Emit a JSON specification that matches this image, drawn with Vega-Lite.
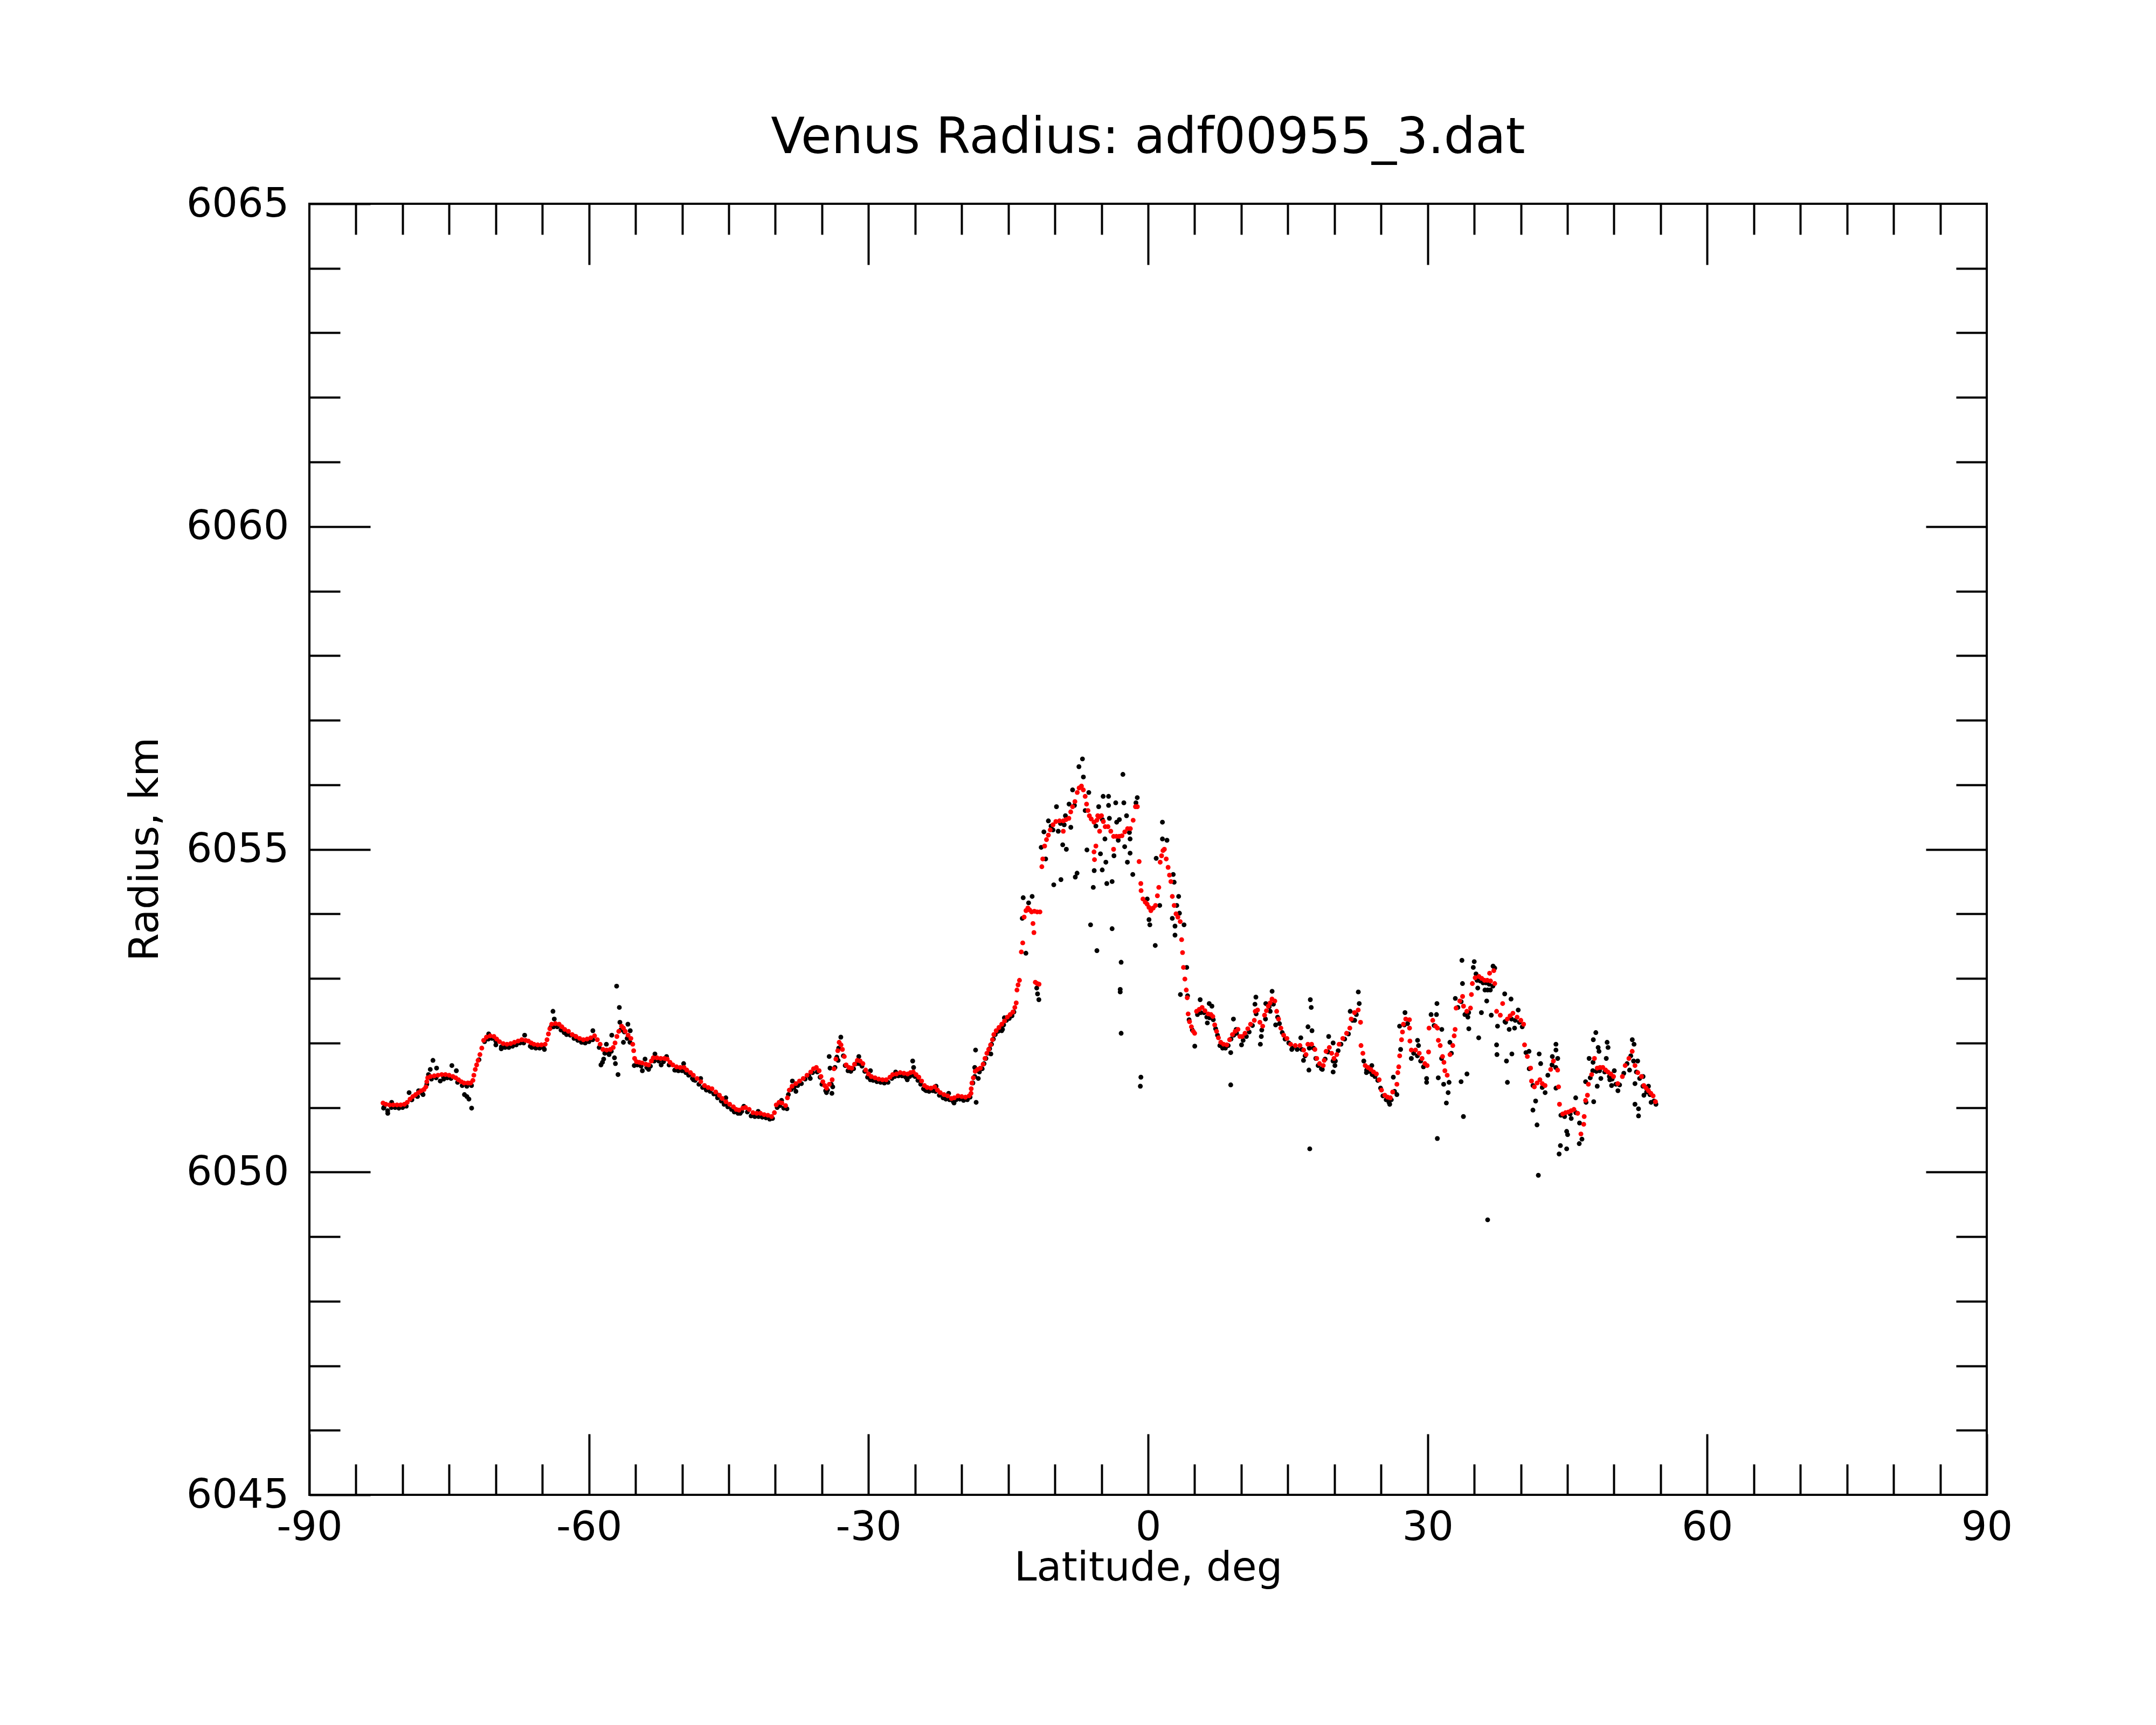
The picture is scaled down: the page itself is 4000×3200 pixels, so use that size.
{
  "$schema": "https://vega.github.io/schema/vega-lite/v6.json",
  "width": 3112,
  "height": 2395,
  "autosize": {"type": "none"},
  "padding": {"left": 574, "top": 378, "right": 314, "bottom": 427},
  "background": "white",
  "title": {
    "text": "Venus Radius: adf00955_3.dat",
    "font": "DejaVu Sans",
    "fontSize": 92,
    "fontWeight": "normal",
    "color": "black",
    "anchor": "middle",
    "frame": "group",
    "baseline": "alphabetic",
    "offset": -35
  },
  "datasets": {
    "raw": [
      {"lat": -82.0, "r": 6051.00}, {"lat": -81.6, "r": 6050.95}, {"lat": -81.2, "r": 6051.00}, {"lat": -80.8, "r": 6051.00},
      {"lat": -80.4, "r": 6050.99}, {"lat": -80.0, "r": 6051.00}, {"lat": -79.6, "r": 6051.02}, {"lat": -79.0, "r": 6051.12},
      {"lat": -78.4, "r": 6051.17}, {"lat": -77.9, "r": 6051.22}, {"lat": -77.4, "r": 6051.36}, {"lat": -76.9, "r": 6051.44},
      {"lat": -76.4, "r": 6051.46}, {"lat": -75.6, "r": 6051.47}, {"lat": -75.2, "r": 6051.46}, {"lat": -74.8, "r": 6051.45},
      {"lat": -74.1, "r": 6051.39}, {"lat": -73.6, "r": 6051.34}, {"lat": -73.1, "r": 6051.33}, {"lat": -72.6, "r": 6051.34},
      {"lat": -71.8, "r": 6051.74}, {"lat": -71.2, "r": 6052.02}, {"lat": -70.8, "r": 6052.06}, {"lat": -70.4, "r": 6052.07},
      {"lat": -70.0, "r": 6052.03}, {"lat": -69.4, "r": 6051.94}, {"lat": -69.0, "r": 6051.93}, {"lat": -68.6, "r": 6051.93},
      {"lat": -68.2, "r": 6051.95}, {"lat": -67.8, "r": 6051.97}, {"lat": -67.4, "r": 6052.00}, {"lat": -67.0, "r": 6052.00},
      {"lat": -66.3, "r": 6051.95}, {"lat": -65.7, "r": 6051.92}, {"lat": -65.3, "r": 6051.92}, {"lat": -64.9, "r": 6051.93},
      {"lat": -64.1, "r": 6052.24}, {"lat": -63.8, "r": 6052.25}, {"lat": -63.4, "r": 6052.25}, {"lat": -63.0, "r": 6052.20},
      {"lat": -62.4, "r": 6052.13}, {"lat": -62.0, "r": 6052.12}, {"lat": -61.6, "r": 6052.07}, {"lat": -61.2, "r": 6052.04},
      {"lat": -60.8, "r": 6052.01}, {"lat": -60.4, "r": 6052.00}, {"lat": -60.0, "r": 6052.02}, {"lat": -59.6, "r": 6052.05},
      {"lat": -58.9, "r": 6051.93}, {"lat": -58.3, "r": 6051.84}, {"lat": -57.9, "r": 6051.84}, {"lat": -57.6, "r": 6051.87},
      {"lat": -56.6, "r": 6052.20}, {"lat": -56.2, "r": 6052.17}, {"lat": -55.9, "r": 6052.07}, {"lat": -55.6, "r": 6052.01},
      {"lat": -81.59, "r": 6050.91}, {"lat": -82.04, "r": 6050.99}, {"lat": -81.17, "r": 6051.08}, {"lat": -79.3, "r": 6051.23},
      {"lat": -79.05, "r": 6051.12}, {"lat": -78.28, "r": 6051.26}, {"lat": -77.8, "r": 6051.20}, {"lat": -77.22, "r": 6051.51},
      {"lat": -77.03, "r": 6051.59}, {"lat": -76.74, "r": 6051.73}, {"lat": -76.35, "r": 6051.61}, {"lat": -75.96, "r": 6051.41},
      {"lat": -75.58, "r": 6051.44}, {"lat": -74.71, "r": 6051.65}, {"lat": -74.23, "r": 6051.57}, {"lat": -73.36, "r": 6051.20},
      {"lat": -73.1, "r": 6051.17}, {"lat": -72.88, "r": 6051.13}, {"lat": -72.59, "r": 6050.99}, {"lat": -70.76, "r": 6052.14},
      {"lat": -69.99, "r": 6051.97}, {"lat": -69.41, "r": 6051.91}, {"lat": -68.45, "r": 6051.96}, {"lat": -66.9, "r": 6052.12},
      {"lat": -66.13, "r": 6051.93}, {"lat": -64.78, "r": 6051.90}, {"lat": -63.86, "r": 6052.49}, {"lat": -63.72, "r": 6052.37},
      {"lat": -62.66, "r": 6052.16}, {"lat": -61.5, "r": 6052.10}, {"lat": -60.54, "r": 6052.01}, {"lat": -59.58, "r": 6052.19},
      {"lat": -58.71, "r": 6051.66}, {"lat": -58.55, "r": 6051.70}, {"lat": -58.42, "r": 6051.75}, {"lat": -58.13, "r": 6051.98},
      {"lat": -57.84, "r": 6051.82}, {"lat": -57.55, "r": 6052.12}, {"lat": -57.26, "r": 6051.77}, {"lat": -57.16, "r": 6051.68},
      {"lat": -57.03, "r": 6052.88}, {"lat": -56.74, "r": 6052.55}, {"lat": -56.88, "r": 6051.51}, {"lat": -56.68, "r": 6052.32},
      {"lat": -56.3, "r": 6052.01}, {"lat": -55.82, "r": 6052.29}, {"lat": -55.57, "r": 6052.19}, {"lat": -55.14, "r": 6051.65},
      {"lat": -54.8, "r": 6051.66}, {"lat": -54.4, "r": 6051.64}, {"lat": -53.8, "r": 6051.62}, {"lat": -53.4, "r": 6051.64},
      {"lat": -53.0, "r": 6051.72}, {"lat": -52.5, "r": 6051.72}, {"lat": -52.0, "r": 6051.71}, {"lat": -51.4, "r": 6051.66},
      {"lat": -50.8, "r": 6051.58}, {"lat": -50.4, "r": 6051.57}, {"lat": -50.0, "r": 6051.57}, {"lat": -49.6, "r": 6051.54},
      {"lat": -49.3, "r": 6051.50}, {"lat": -48.9, "r": 6051.45}, {"lat": -48.6, "r": 6051.42}, {"lat": -48.2, "r": 6051.36},
      {"lat": -47.8, "r": 6051.31}, {"lat": -47.4, "r": 6051.27}, {"lat": -47.0, "r": 6051.25}, {"lat": -46.6, "r": 6051.21},
      {"lat": -46.2, "r": 6051.15}, {"lat": -45.8, "r": 6051.10}, {"lat": -45.5, "r": 6051.05}, {"lat": -45.1, "r": 6051.01},
      {"lat": -44.7, "r": 6050.97}, {"lat": -44.4, "r": 6050.93}, {"lat": -44.0, "r": 6050.91}, {"lat": -43.6, "r": 6050.94},
      {"lat": -43.0, "r": 6050.93}, {"lat": -42.6, "r": 6050.87}, {"lat": -42.2, "r": 6050.86}, {"lat": -41.8, "r": 6050.86},
      {"lat": -41.4, "r": 6050.85}, {"lat": -41.0, "r": 6050.84}, {"lat": -40.6, "r": 6050.82}, {"lat": -39.8, "r": 6051.00},
      {"lat": -39.5, "r": 6051.03}, {"lat": -39.1, "r": 6050.99}, {"lat": -38.6, "r": 6051.20}, {"lat": -38.3, "r": 6051.28},
      {"lat": -38.0, "r": 6051.31}, {"lat": -37.6, "r": 6051.34}, {"lat": -37.2, "r": 6051.37}, {"lat": -36.8, "r": 6051.44},
      {"lat": -36.4, "r": 6051.49}, {"lat": -36.0, "r": 6051.54}, {"lat": -35.5, "r": 6051.55}, {"lat": -35.2, "r": 6051.47},
      {"lat": -35.0, "r": 6051.36}, {"lat": -34.6, "r": 6051.26}, {"lat": -34.4, "r": 6051.27}, {"lat": -34.0, "r": 6051.36},
      {"lat": -33.6, "r": 6051.62}, {"lat": -33.4, "r": 6051.78}, {"lat": -33.2, "r": 6051.92}, {"lat": -32.7, "r": 6051.80},
      {"lat": -32.5, "r": 6051.65}, {"lat": -32.2, "r": 6051.57}, {"lat": -31.9, "r": 6051.56}, {"lat": -31.6, "r": 6051.60},
      {"lat": -31.3, "r": 6051.68}, {"lat": -31.0, "r": 6051.68}, {"lat": -30.7, "r": 6051.64}, {"lat": -30.4, "r": 6051.56},
      {"lat": -30.1, "r": 6051.47}, {"lat": -29.8, "r": 6051.43}, {"lat": -29.5, "r": 6051.42}, {"lat": -29.1, "r": 6051.40},
      {"lat": -28.7, "r": 6051.39}, {"lat": -28.3, "r": 6051.38}, {"lat": -27.9, "r": 6051.39}, {"lat": -27.5, "r": 6051.45},
      {"lat": -27.2, "r": 6051.48}, {"lat": -26.8, "r": 6051.49}, {"lat": -26.4, "r": 6051.49}, {"lat": -26.0, "r": 6051.47},
      {"lat": -25.6, "r": 6051.48}, {"lat": -25.3, "r": 6051.50}, {"lat": -25.0, "r": 6051.48}, {"lat": -24.7, "r": 6051.42},
      {"lat": -24.4, "r": 6051.36}, {"lat": -24.1, "r": 6051.29}, {"lat": -23.8, "r": 6051.26}, {"lat": -23.5, "r": 6051.25},
      {"lat": -23.1, "r": 6051.26}, {"lat": -22.8, "r": 6051.25}, {"lat": -22.4, "r": 6051.19}, {"lat": -22.0, "r": 6051.15},
      {"lat": -21.7, "r": 6051.13}, {"lat": -21.3, "r": 6051.12}, {"lat": -20.9, "r": 6051.09}, {"lat": -20.6, "r": 6051.12},
      {"lat": -20.2, "r": 6051.13}, {"lat": -19.8, "r": 6051.11}, {"lat": -19.4, "r": 6051.12}, {"lat": -19.1, "r": 6051.16},
      {"lat": -18.8, "r": 6051.38}, {"lat": -18.6, "r": 6051.48}, {"lat": -18.1, "r": 6051.55}, {"lat": -17.8, "r": 6051.60},
      {"lat": -17.6, "r": 6051.68}, {"lat": -17.4, "r": 6051.76}, {"lat": -17.2, "r": 6051.84}, {"lat": -17.0, "r": 6051.91},
      {"lat": -16.8, "r": 6051.98}, {"lat": -16.6, "r": 6052.06}, {"lat": -16.4, "r": 6052.13}, {"lat": -16.1, "r": 6052.18},
      {"lat": -15.8, "r": 6052.24}, {"lat": -15.5, "r": 6052.28}, {"lat": -15.2, "r": 6052.35}, {"lat": -14.9, "r": 6052.38},
      {"lat": -14.6, "r": 6052.42}, {"lat": -14.4, "r": 6052.48},
      {"lat": -54.27, "r": 6051.57}, {"lat": -53.98, "r": 6051.75}, {"lat": -53.6, "r": 6051.59}, {"lat": -52.92, "r": 6051.83},
      {"lat": -52.25, "r": 6051.66}, {"lat": -51.67, "r": 6051.79}, {"lat": -50.71, "r": 6051.58}, {"lat": -49.84, "r": 6051.68},
      {"lat": -48.78, "r": 6051.43}, {"lat": -48.01, "r": 6051.45}, {"lat": -47.43, "r": 6051.29}, {"lat": -46.27, "r": 6051.20},
      {"lat": -45.31, "r": 6051.15}, {"lat": -45.12, "r": 6051.04}, {"lat": -43.77, "r": 6050.91}, {"lat": -43.38, "r": 6051.02},
      {"lat": -41.84, "r": 6050.94}, {"lat": -40.3, "r": 6050.83}, {"lat": -39.33, "r": 6051.11}, {"lat": -38.75, "r": 6050.98},
      {"lat": -38.17, "r": 6051.41}, {"lat": -37.79, "r": 6051.25}, {"lat": -36.25, "r": 6051.45}, {"lat": -34.51, "r": 6051.23},
      {"lat": -34.22, "r": 6051.79}, {"lat": -34.13, "r": 6051.61}, {"lat": -33.93, "r": 6051.22}, {"lat": -33.84, "r": 6051.32},
      {"lat": -32.97, "r": 6052.09}, {"lat": -33.26, "r": 6051.73}, {"lat": -32.01, "r": 6051.58}, {"lat": -31.04, "r": 6051.79},
      {"lat": -29.79, "r": 6051.57}, {"lat": -28.34, "r": 6051.39}, {"lat": -27.09, "r": 6051.55},
      {"lat": -25.26, "r": 6051.72}, {"lat": -25.16, "r": 6051.62}, {"lat": -25.84, "r": 6051.43}, {"lat": -23.91, "r": 6051.27},
      {"lat": -22.75, "r": 6051.33}, {"lat": -21.4, "r": 6051.22}, {"lat": -20.82, "r": 6051.07}, {"lat": -20.05, "r": 6051.14},
      {"lat": -18.51, "r": 6051.89}, {"lat": -18.45, "r": 6051.08}, {"lat": -18.6, "r": 6051.62}, {"lat": -18.22, "r": 6051.45},
      {"lat": -16.87, "r": 6051.83}, {"lat": -15.71, "r": 6052.19}, {"lat": -15.42, "r": 6052.39}, {"lat": -15.62, "r": 6052.21},
      {"lat": -11.95, "r": 6052.85}, {"lat": -11.86, "r": 6052.76}, {"lat": -11.72, "r": 6052.67},
      {"lat": -13.4, "r": 6054.25}, {"lat": -12.44, "r": 6054.27}, {"lat": -13.5, "r": 6053.93}, {"lat": -12.82, "r": 6054.17},
      {"lat": -13.11, "r": 6053.39}, {"lat": -11.47, "r": 6055.03}, {"lat": -10.99, "r": 6054.85}, {"lat": -11.18, "r": 6055.27},
      {"lat": -10.7, "r": 6055.44}, {"lat": -10.41, "r": 6055.36}, {"lat": -10.12, "r": 6054.45}, {"lat": -9.83, "r": 6055.66},
      {"lat": -9.64, "r": 6055.28}, {"lat": -9.35, "r": 6054.53}, {"lat": -9.16, "r": 6055.07}, {"lat": -8.77, "r": 6055.00},
      {"lat": -8.87, "r": 6055.52}, {"lat": -8.29, "r": 6055.34}, {"lat": -8.48, "r": 6055.70}, {"lat": -7.81, "r": 6054.57},
      {"lat": -7.62, "r": 6054.63}, {"lat": -8.1, "r": 6055.92}, {"lat": -7.42, "r": 6056.28}, {"lat": -7.04, "r": 6056.40},
      {"lat": -6.94, "r": 6056.12}, {"lat": -6.36, "r": 6055.88}, {"lat": -6.75, "r": 6055.60}, {"lat": -6.56, "r": 6054.99},
      {"lat": -6.17, "r": 6053.83}, {"lat": -5.88, "r": 6054.41}, {"lat": -5.78, "r": 6054.67}, {"lat": -5.49, "r": 6053.43},
      {"lat": -5.3, "r": 6055.66}, {"lat": -5.11, "r": 6054.93}, {"lat": -4.92, "r": 6054.68}, {"lat": -4.82, "r": 6055.82},
      {"lat": -4.63, "r": 6055.16}, {"lat": -4.53, "r": 6054.80}, {"lat": -4.43, "r": 6054.47}, {"lat": -4.24, "r": 6055.82},
      {"lat": -4.24, "r": 6055.68}, {"lat": -4.15, "r": 6055.48}, {"lat": -3.86, "r": 6054.50}, {"lat": -3.86, "r": 6053.77},
      {"lat": -3.66, "r": 6054.90}, {"lat": -3.47, "r": 6055.72}, {"lat": -3.37, "r": 6055.42}, {"lat": -3.08, "r": 6055.46},
      {"lat": -2.99, "r": 6052.83}, {"lat": -2.99, "r": 6052.79}, {"lat": -2.89, "r": 6053.25}, {"lat": -2.89, "r": 6052.15},
      {"lat": -2.7, "r": 6056.16}, {"lat": -2.6, "r": 6055.72}, {"lat": -2.51, "r": 6055.04}, {"lat": -2.31, "r": 6055.52},
      {"lat": -2.22, "r": 6054.80}, {"lat": -1.93, "r": 6054.94}, {"lat": -1.93, "r": 6055.16}, {"lat": -1.64, "r": 6054.61},
      {"lat": -1.16, "r": 6055.80}, {"lat": -1.3, "r": 6055.72}, {"lat": -0.77, "r": 6051.47}, {"lat": -0.83, "r": 6051.33},
      {"lat": -0.09, "r": 6054.23}, {"lat": 0.1, "r": 6053.91}, {"lat": 0.19, "r": 6053.83}, {"lat": 0.77, "r": 6053.51},
      {"lat": 0.87, "r": 6054.86}, {"lat": 1.25, "r": 6054.13}, {"lat": 1.54, "r": 6055.42}, {"lat": 1.54, "r": 6055.16},
      {"lat": 2.03, "r": 6055.14}, {"lat": 2.7, "r": 6054.61}, {"lat": 2.8, "r": 6054.49}, {"lat": 3.28, "r": 6054.27},
      {"lat": 3.08, "r": 6054.13}, {"lat": 2.6, "r": 6053.93}, {"lat": 2.89, "r": 6053.81}, {"lat": 2.89, "r": 6053.67},
      {"lat": 3.37, "r": 6054.01}, {"lat": 3.86, "r": 6053.83}, {"lat": 4.15, "r": 6053.17}, {"lat": 3.47, "r": 6052.75},
      {"lat": 4.24, "r": 6052.73}, {"lat": 5.01, "r": 6051.95}, {"lat": 5.59, "r": 6052.67}, {"lat": 6.36, "r": 6052.31},
      {"lat": 6.56, "r": 6052.61}, {"lat": 6.85, "r": 6052.57}, {"lat": 8.87, "r": 6051.85}, {"lat": 8.87, "r": 6051.35},
      {"lat": 9.16, "r": 6052.37}, {"lat": 9.45, "r": 6052.21}, {"lat": 10.03, "r": 6051.97},
      {"lat": -9.4, "r": 6055.40}, {"lat": -9.0, "r": 6055.38}, {"lat": -10.2, "r": 6055.30}, {"lat": -7.9, "r": 6055.68},
      {"lat": -5.6, "r": 6055.36}, {"lat": -4.9, "r": 6055.46}, {"lat": -3.2, "r": 6055.14}, {"lat": -2.0, "r": 6055.26},
      {"lat": 4.4, "r": 6052.36}, {"lat": 4.75, "r": 6052.20}, {"lat": 5.3, "r": 6052.44}, {"lat": 5.65, "r": 6052.47},
      {"lat": 6.0, "r": 6052.47}, {"lat": 6.3, "r": 6052.40}, {"lat": 6.6, "r": 6052.39}, {"lat": 7.0, "r": 6052.36},
      {"lat": 7.25, "r": 6052.22}, {"lat": 7.45, "r": 6052.12}, {"lat": 7.7, "r": 6051.96}, {"lat": 8.0, "r": 6051.92},
      {"lat": 8.3, "r": 6051.92}, {"lat": 8.6, "r": 6051.96}, {"lat": 8.9, "r": 6052.06}, {"lat": 9.2, "r": 6052.12},
      {"lat": 9.5, "r": 6052.15}, {"lat": 10.2, "r": 6052.04}, {"lat": 10.55, "r": 6052.10}, {"lat": 10.85, "r": 6052.17},
      {"lat": 11.2, "r": 6052.27}, {"lat": 11.6, "r": 6052.45}, {"lat": 12.2, "r": 6052.20}, {"lat": 12.6, "r": 6052.37},
      {"lat": 13.0, "r": 6052.56}, {"lat": 13.45, "r": 6052.60}, {"lat": 13.9, "r": 6052.40}, {"lat": 14.1, "r": 6052.30},
      {"lat": 14.4, "r": 6052.16}, {"lat": 14.7, "r": 6052.06}, {"lat": 15.1, "r": 6052.00}, {"lat": 15.5, "r": 6051.92},
      {"lat": 16.0, "r": 6051.90}, {"lat": 16.5, "r": 6051.90}, {"lat": 16.85, "r": 6051.80}, {"lat": 17.3, "r": 6051.92},
      {"lat": 17.75, "r": 6051.92}, {"lat": 18.0, "r": 6051.76}, {"lat": 18.25, "r": 6051.65}, {"lat": 18.6, "r": 6051.60},
      {"lat": 19.0, "r": 6051.75}, {"lat": 19.3, "r": 6051.86}, {"lat": 19.85, "r": 6051.72}, {"lat": 20.1, "r": 6051.72},
      {"lat": 20.4, "r": 6051.88}, {"lat": 20.7, "r": 6051.98}, {"lat": 21.1, "r": 6052.06}, {"lat": 21.5, "r": 6052.14},
      {"lat": 21.95, "r": 6052.35}, {"lat": 22.35, "r": 6052.44}, {"lat": 23.15, "r": 6051.72}, {"lat": 23.45, "r": 6051.58},
      {"lat": 23.75, "r": 6051.56}, {"lat": 24.05, "r": 6051.51}, {"lat": 24.35, "r": 6051.48}, {"lat": 24.65, "r": 6051.42},
      {"lat": 24.95, "r": 6051.30}, {"lat": 25.2, "r": 6051.18}, {"lat": 25.55, "r": 6051.12}, {"lat": 25.85, "r": 6051.08},
      {"lat": 26.1, "r": 6051.12}, {"lat": 26.45, "r": 6051.25}, {"lat": 27.1, "r": 6051.90}, {"lat": 27.5, "r": 6052.28},
      {"lat": 27.85, "r": 6052.30}, {"lat": 28.5, "r": 6051.84}, {"lat": 28.9, "r": 6051.80}, {"lat": 29.25, "r": 6051.72},
      {"lat": 29.55, "r": 6051.63}, {"lat": 30.7, "r": 6052.27}, {"lat": 31.5, "r": 6051.76}, {"lat": 32.55, "r": 6051.84},
      {"lat": 33.25, "r": 6052.55}, {"lat": 33.6, "r": 6052.64}, {"lat": 34.0, "r": 6052.44}, {"lat": 34.4, "r": 6052.47},
      {"lat": 35.3, "r": 6052.97}, {"lat": 35.65, "r": 6052.96}, {"lat": 35.95, "r": 6052.93}, {"lat": 36.25, "r": 6052.93},
      {"lat": 36.6, "r": 6052.91}, {"lat": 37.0, "r": 6052.88}, {"lat": 38.3, "r": 6052.33}, {"lat": 39.0, "r": 6052.37},
      {"lat": 39.4, "r": 6052.35}, {"lat": 39.85, "r": 6052.32}, {"lat": 40.15, "r": 6052.25}, {"lat": 40.55, "r": 6051.85},
      {"lat": 40.9, "r": 6051.60}, {"lat": 41.3, "r": 6051.34}, {"lat": 42.3, "r": 6051.31}, {"lat": 42.9, "r": 6051.50},
      {"lat": 43.35, "r": 6051.66}, {"lat": 43.75, "r": 6051.62}, {"lat": 44.3, "r": 6050.88}, {"lat": 44.7, "r": 6050.86},
      {"lat": 45.3, "r": 6050.90}, {"lat": 45.9, "r": 6050.92}, {"lat": 46.3, "r": 6050.76}, {"lat": 47.0, "r": 6051.08},
      {"lat": 47.45, "r": 6051.46}, {"lat": 47.75, "r": 6051.70}, {"lat": 48.1, "r": 6051.56}, {"lat": 48.45, "r": 6051.57},
      {"lat": 49.0, "r": 6051.55}, {"lat": 49.5, "r": 6051.48}, {"lat": 49.8, "r": 6051.44}, {"lat": 50.2, "r": 6051.36},
      {"lat": 50.6, "r": 6051.35}, {"lat": 51.05, "r": 6051.53}, {"lat": 51.4, "r": 6051.68}, {"lat": 51.8, "r": 6051.80},
      {"lat": 52.1, "r": 6051.72}, {"lat": 52.4, "r": 6051.55}, {"lat": 52.75, "r": 6051.45}, {"lat": 53.1, "r": 6051.33},
      {"lat": 53.5, "r": 6051.24}, {"lat": 53.85, "r": 6051.20}, {"lat": 54.3, "r": 6051.10}, {"lat": 54.5, "r": 6051.05},
      {"lat": 11.57, "r": 6052.71}, {"lat": 11.47, "r": 6052.60}, {"lat": 12.15, "r": 6052.10}, {"lat": 12.05, "r": 6051.98},
      {"lat": 12.63, "r": 6052.61}, {"lat": 13.31, "r": 6052.80}, {"lat": 13.11, "r": 6052.49}, {"lat": 13.69, "r": 6052.28},
      {"lat": 15.42, "r": 6051.90}, {"lat": 16.39, "r": 6052.08}, {"lat": 16.68, "r": 6051.73}, {"lat": 17.26, "r": 6051.58},
      {"lat": 17.41, "r": 6052.67}, {"lat": 17.51, "r": 6052.55}, {"lat": 17.16, "r": 6052.25}, {"lat": 17.59, "r": 6052.19},
      {"lat": 17.35, "r": 6050.36}, {"lat": 18.7, "r": 6051.59}, {"lat": 19.38, "r": 6052.10}, {"lat": 19.86, "r": 6052.00},
      {"lat": 19.86, "r": 6051.55}, {"lat": 20.05, "r": 6051.65}, {"lat": 21.69, "r": 6052.49}, {"lat": 22.17, "r": 6052.35},
      {"lat": 22.56, "r": 6052.79}, {"lat": 22.66, "r": 6052.61}, {"lat": 23.43, "r": 6051.54}, {"lat": 24.01, "r": 6051.65},
      {"lat": 25.93, "r": 6051.05}, {"lat": 26.32, "r": 6051.47}, {"lat": 26.7, "r": 6051.20}, {"lat": 26.99, "r": 6052.26},
      {"lat": 27.57, "r": 6052.47}, {"lat": 28.25, "r": 6051.76}, {"lat": 28.92, "r": 6052.04}, {"lat": 29.02, "r": 6051.96},
      {"lat": 29.89, "r": 6051.45}, {"lat": 29.89, "r": 6051.39}, {"lat": 30.37, "r": 6052.44}, {"lat": 30.95, "r": 6052.44},
      {"lat": 31.0, "r": 6052.61}, {"lat": 31.04, "r": 6050.52}, {"lat": 31.14, "r": 6051.46}, {"lat": 31.52, "r": 6052.21},
      {"lat": 31.72, "r": 6051.36}, {"lat": 32.2, "r": 6051.23}, {"lat": 32.01, "r": 6051.07}, {"lat": 32.3, "r": 6051.39},
      {"lat": 32.39, "r": 6052.01}, {"lat": 32.97, "r": 6052.69}, {"lat": 33.59, "r": 6051.40}, {"lat": 33.68, "r": 6053.28},
      {"lat": 33.74, "r": 6052.92}, {"lat": 33.84, "r": 6050.86}, {"lat": 34.22, "r": 6051.52}, {"lat": 34.32, "r": 6052.40},
      {"lat": 34.42, "r": 6052.22}, {"lat": 35.0, "r": 6053.26}, {"lat": 34.9, "r": 6053.17}, {"lat": 35.19, "r": 6053.07},
      {"lat": 35.38, "r": 6052.85}, {"lat": 35.48, "r": 6052.08}, {"lat": 35.77, "r": 6052.47}, {"lat": 36.15, "r": 6052.82},
      {"lat": 36.34, "r": 6052.65}, {"lat": 36.73, "r": 6052.82}, {"lat": 36.83, "r": 6052.43}, {"lat": 37.02, "r": 6053.19},
      {"lat": 37.2, "r": 6053.16}, {"lat": 37.4, "r": 6051.97}, {"lat": 37.44, "r": 6051.82}, {"lat": 37.5, "r": 6052.26},
      {"lat": 38.27, "r": 6052.76}, {"lat": 38.46, "r": 6051.72}, {"lat": 38.56, "r": 6051.39}, {"lat": 38.37, "r": 6052.32},
      {"lat": 36.44, "r": 6049.26}, {"lat": 36.44, "r": 6052.82}, {"lat": 38.95, "r": 6052.68}, {"lat": 38.75, "r": 6052.21},
      {"lat": 39.04, "r": 6051.83}, {"lat": 39.33, "r": 6052.23}, {"lat": 39.72, "r": 6052.51}, {"lat": 40.88, "r": 6051.87},
      {"lat": 41.97, "r": 6051.83}, {"lat": 42.13, "r": 6051.68}, {"lat": 41.59, "r": 6051.10}, {"lat": 41.3, "r": 6050.96},
      {"lat": 41.74, "r": 6050.73}, {"lat": 41.88, "r": 6049.95}, {"lat": 42.61, "r": 6051.23}, {"lat": 43.38, "r": 6051.79},
      {"lat": 43.77, "r": 6051.98}, {"lat": 43.77, "r": 6051.89}, {"lat": 43.96, "r": 6051.76}, {"lat": 43.77, "r": 6051.30},
      {"lat": 44.25, "r": 6050.41}, {"lat": 44.11, "r": 6050.28}, {"lat": 44.92, "r": 6050.36}, {"lat": 44.92, "r": 6050.63},
      {"lat": 45.02, "r": 6050.58}, {"lat": 45.41, "r": 6050.83}, {"lat": 45.89, "r": 6051.15}, {"lat": 46.27, "r": 6050.44},
      {"lat": 46.56, "r": 6050.51}, {"lat": 46.95, "r": 6051.40}, {"lat": 47.33, "r": 6051.76}, {"lat": 47.72, "r": 6051.57},
      {"lat": 47.82, "r": 6051.09}, {"lat": 48.05, "r": 6052.16}, {"lat": 47.78, "r": 6052.05}, {"lat": 48.3, "r": 6051.93},
      {"lat": 48.39, "r": 6051.87}, {"lat": 48.2, "r": 6051.33}, {"lat": 48.59, "r": 6051.45}, {"lat": 49.17, "r": 6051.76},
      {"lat": 49.26, "r": 6052.01}, {"lat": 49.36, "r": 6051.93}, {"lat": 49.55, "r": 6051.43}, {"lat": 49.74, "r": 6051.34},
      {"lat": 50.03, "r": 6051.57}, {"lat": 50.42, "r": 6051.26}, {"lat": 51.67, "r": 6051.58}, {"lat": 51.96, "r": 6052.05},
      {"lat": 52.15, "r": 6051.98}, {"lat": 52.54, "r": 6051.72}, {"lat": 52.25, "r": 6051.37}, {"lat": 53.12, "r": 6051.48},
      {"lat": 53.7, "r": 6051.33}, {"lat": 53.21, "r": 6051.19}, {"lat": 52.25, "r": 6051.05}, {"lat": 52.63, "r": 6050.98},
      {"lat": 52.63, "r": 6050.87}, {"lat": 53.98, "r": 6051.08}
    ],
    "fit": [
      {"lat": -82.1, "r": 6051.07}, {"lat": -81.8, "r": 6051.05}, {"lat": -81.4, "r": 6051.04}, {"lat": -81.0, "r": 6051.04},
      {"lat": -80.6, "r": 6051.04}, {"lat": -80.2, "r": 6051.04}, {"lat": -79.8, "r": 6051.05}, {"lat": -79.5, "r": 6051.08},
      {"lat": -79.2, "r": 6051.13}, {"lat": -78.9, "r": 6051.17}, {"lat": -78.6, "r": 6051.20}, {"lat": -78.3, "r": 6051.23},
      {"lat": -78.0, "r": 6051.26}, {"lat": -77.7, "r": 6051.28}, {"lat": -77.5, "r": 6051.32}, {"lat": -77.4, "r": 6051.40},
      {"lat": -77.3, "r": 6051.46}, {"lat": -77.0, "r": 6051.48}, {"lat": -76.6, "r": 6051.49}, {"lat": -76.2, "r": 6051.50},
      {"lat": -75.8, "r": 6051.51}, {"lat": -75.4, "r": 6051.51}, {"lat": -75.0, "r": 6051.50}, {"lat": -74.6, "r": 6051.48},
      {"lat": -74.3, "r": 6051.46}, {"lat": -74.0, "r": 6051.43}, {"lat": -73.7, "r": 6051.40}, {"lat": -73.4, "r": 6051.38},
      {"lat": -73.0, "r": 6051.38}, {"lat": -72.7, "r": 6051.38}, {"lat": -72.45, "r": 6051.42}, {"lat": -72.35, "r": 6051.50},
      {"lat": -72.2, "r": 6051.59}, {"lat": -72.05, "r": 6051.66}, {"lat": -71.9, "r": 6051.73}, {"lat": -71.7, "r": 6051.82},
      {"lat": -71.5, "r": 6051.92}, {"lat": -71.3, "r": 6052.04}, {"lat": -71.0, "r": 6052.09}, {"lat": -70.6, "r": 6052.11},
      {"lat": -70.2, "r": 6052.10}, {"lat": -69.9, "r": 6052.06}, {"lat": -69.6, "r": 6052.02}, {"lat": -69.2, "r": 6051.99},
      {"lat": -68.8, "r": 6051.98}, {"lat": -68.4, "r": 6051.99}, {"lat": -68.0, "r": 6052.01}, {"lat": -67.6, "r": 6052.03},
      {"lat": -67.2, "r": 6052.05}, {"lat": -66.8, "r": 6052.04}, {"lat": -66.5, "r": 6052.03}, {"lat": -66.2, "r": 6052.00},
      {"lat": -65.9, "r": 6051.98}, {"lat": -65.5, "r": 6051.97}, {"lat": -65.1, "r": 6051.97}, {"lat": -64.7, "r": 6051.98},
      {"lat": -64.5, "r": 6052.05}, {"lat": -64.35, "r": 6052.14}, {"lat": -64.2, "r": 6052.22}, {"lat": -64.0, "r": 6052.29},
      {"lat": -63.6, "r": 6052.30}, {"lat": -63.2, "r": 6052.29}, {"lat": -62.9, "r": 6052.25}, {"lat": -62.6, "r": 6052.21},
      {"lat": -62.2, "r": 6052.18}, {"lat": -61.8, "r": 6052.13}, {"lat": -61.4, "r": 6052.10}, {"lat": -61.0, "r": 6052.07},
      {"lat": -60.6, "r": 6052.05}, {"lat": -60.2, "r": 6052.06}, {"lat": -59.8, "r": 6052.08}, {"lat": -59.4, "r": 6052.11},
      {"lat": -59.1, "r": 6052.05}, {"lat": -58.8, "r": 6051.98}, {"lat": -58.5, "r": 6051.90}, {"lat": -58.1, "r": 6051.89},
      {"lat": -57.7, "r": 6051.90}, {"lat": -57.4, "r": 6051.93}, {"lat": -57.2, "r": 6052.00}, {"lat": -57.0, "r": 6052.10},
      {"lat": -56.8, "r": 6052.18}, {"lat": -56.5, "r": 6052.26}, {"lat": -56.3, "r": 6052.23}, {"lat": -56.1, "r": 6052.18},
      {"lat": -55.8, "r": 6052.12}, {"lat": -55.5, "r": 6052.07}, {"lat": -55.3, "r": 6051.98}, {"lat": -55.2, "r": 6051.88},
      {"lat": -55.1, "r": 6051.76}, {"lat": -54.9, "r": 6051.71}, {"lat": -54.6, "r": 6051.70}, {"lat": -54.3, "r": 6051.69},
      {"lat": -53.9, "r": 6051.67}, {"lat": -53.6, "r": 6051.66}, {"lat": -53.3, "r": 6051.72}, {"lat": -53.1, "r": 6051.77},
      {"lat": -52.7, "r": 6051.77}, {"lat": -52.3, "r": 6051.76}, {"lat": -51.9, "r": 6051.76}, {"lat": -51.6, "r": 6051.75},
      {"lat": -51.3, "r": 6051.70}, {"lat": -51.0, "r": 6051.66}, {"lat": -50.6, "r": 6051.63}, {"lat": -50.2, "r": 6051.62},
      {"lat": -49.8, "r": 6051.62}, {"lat": -49.5, "r": 6051.58}, {"lat": -49.1, "r": 6051.54}, {"lat": -48.8, "r": 6051.50},
      {"lat": -48.4, "r": 6051.45}, {"lat": -48.0, "r": 6051.40}, {"lat": -47.6, "r": 6051.34}, {"lat": -47.2, "r": 6051.31},
      {"lat": -46.8, "r": 6051.29}, {"lat": -46.4, "r": 6051.24}, {"lat": -46.0, "r": 6051.19}, {"lat": -45.7, "r": 6051.14},
      {"lat": -45.3, "r": 6051.09}, {"lat": -44.9, "r": 6051.05}, {"lat": -44.5, "r": 6051.01}, {"lat": -44.2, "r": 6050.97},
      {"lat": -43.9, "r": 6050.96}, {"lat": -43.5, "r": 6050.99}, {"lat": -43.2, "r": 6051.00}, {"lat": -42.8, "r": 6050.97},
      {"lat": -42.4, "r": 6050.92}, {"lat": -42.0, "r": 6050.91}, {"lat": -41.6, "r": 6050.91}, {"lat": -41.2, "r": 6050.89},
      {"lat": -40.8, "r": 6050.88}, {"lat": -40.4, "r": 6050.86}, {"lat": -40.1, "r": 6050.92}, {"lat": -39.9, "r": 6051.04},
      {"lat": -39.6, "r": 6051.08}, {"lat": -39.3, "r": 6051.07}, {"lat": -38.9, "r": 6051.03}, {"lat": -38.7, "r": 6051.15},
      {"lat": -38.5, "r": 6051.27}, {"lat": -38.2, "r": 6051.33}, {"lat": -37.8, "r": 6051.37}, {"lat": -37.4, "r": 6051.41},
      {"lat": -37.0, "r": 6051.45}, {"lat": -36.6, "r": 6051.50}, {"lat": -36.2, "r": 6051.55}, {"lat": -35.9, "r": 6051.60},
      {"lat": -35.6, "r": 6051.62}, {"lat": -35.3, "r": 6051.57}, {"lat": -35.1, "r": 6051.48}, {"lat": -34.9, "r": 6051.40},
      {"lat": -34.7, "r": 6051.34}, {"lat": -34.5, "r": 6051.30}, {"lat": -34.2, "r": 6051.36}, {"lat": -33.9, "r": 6051.43},
      {"lat": -33.7, "r": 6051.60}, {"lat": -33.5, "r": 6051.75}, {"lat": -33.3, "r": 6051.88}, {"lat": -33.15, "r": 6052.01},
      {"lat": -32.95, "r": 6051.97}, {"lat": -32.8, "r": 6051.90}, {"lat": -32.6, "r": 6051.79}, {"lat": -32.4, "r": 6051.66},
      {"lat": -32.1, "r": 6051.62}, {"lat": -31.8, "r": 6051.61}, {"lat": -31.5, "r": 6051.67}, {"lat": -31.2, "r": 6051.73},
      {"lat": -30.9, "r": 6051.72}, {"lat": -30.6, "r": 6051.68}, {"lat": -30.3, "r": 6051.58}, {"lat": -30.0, "r": 6051.52},
      {"lat": -29.7, "r": 6051.48}, {"lat": -29.3, "r": 6051.46}, {"lat": -28.9, "r": 6051.44}, {"lat": -28.5, "r": 6051.43},
      {"lat": -28.1, "r": 6051.43}, {"lat": -27.7, "r": 6051.47}, {"lat": -27.4, "r": 6051.51}, {"lat": -27.0, "r": 6051.52},
      {"lat": -26.6, "r": 6051.54}, {"lat": -26.2, "r": 6051.53}, {"lat": -25.8, "r": 6051.52}, {"lat": -25.5, "r": 6051.54},
      {"lat": -25.2, "r": 6051.55}, {"lat": -24.9, "r": 6051.51}, {"lat": -24.6, "r": 6051.47}, {"lat": -24.3, "r": 6051.41},
      {"lat": -24.0, "r": 6051.34}, {"lat": -23.7, "r": 6051.31}, {"lat": -23.3, "r": 6051.30}, {"lat": -22.9, "r": 6051.32},
      {"lat": -22.6, "r": 6051.27}, {"lat": -22.3, "r": 6051.23}, {"lat": -21.9, "r": 6051.20}, {"lat": -21.5, "r": 6051.18},
      {"lat": -21.1, "r": 6051.14}, {"lat": -20.8, "r": 6051.15}, {"lat": -20.4, "r": 6051.18}, {"lat": -20.0, "r": 6051.17},
      {"lat": -19.6, "r": 6051.16}, {"lat": -19.2, "r": 6051.18}, {"lat": -19.0, "r": 6051.22}, {"lat": -18.98, "r": 6051.29},
      {"lat": -18.9, "r": 6051.38}, {"lat": -18.75, "r": 6051.46}, {"lat": -18.55, "r": 6051.56}, {"lat": -18.3, "r": 6051.59},
      {"lat": -18.0, "r": 6051.61}, {"lat": -17.7, "r": 6051.67}, {"lat": -17.5, "r": 6051.76}, {"lat": -17.3, "r": 6051.84},
      {"lat": -17.1, "r": 6051.90}, {"lat": -16.9, "r": 6051.97}, {"lat": -16.7, "r": 6052.05}, {"lat": -16.55, "r": 6052.13},
      {"lat": -16.3, "r": 6052.19}, {"lat": -16.0, "r": 6052.24}, {"lat": -15.7, "r": 6052.29}, {"lat": -15.4, "r": 6052.34},
      {"lat": -15.1, "r": 6052.40}, {"lat": -14.8, "r": 6052.44}, {"lat": -14.5, "r": 6052.48}, {"lat": -14.3, "r": 6052.55},
      {"lat": -14.15, "r": 6052.62}, {"lat": -14.07, "r": 6052.82}, {"lat": -13.95, "r": 6052.90}, {"lat": -13.8, "r": 6052.97},
      {"lat": -13.6, "r": 6053.41}, {"lat": -13.45, "r": 6053.55}, {"lat": -13.3, "r": 6053.95}, {"lat": -13.1, "r": 6054.05},
      {"lat": -12.9, "r": 6054.09}, {"lat": -12.7, "r": 6054.06}, {"lat": -12.5, "r": 6054.03}, {"lat": -12.2, "r": 6054.04},
      {"lat": -11.9, "r": 6054.03}, {"lat": -11.6, "r": 6054.03}, {"lat": -12.35, "r": 6053.85}, {"lat": -12.25, "r": 6053.71},
      {"lat": -12.1, "r": 6052.94}, {"lat": -11.9, "r": 6052.92}, {"lat": -11.7, "r": 6052.91}, {"lat": -11.4, "r": 6054.73},
      {"lat": -11.3, "r": 6054.85}, {"lat": -11.1, "r": 6055.05}, {"lat": -10.9, "r": 6055.15}, {"lat": -10.7, "r": 6055.22},
      {"lat": -10.5, "r": 6055.30}, {"lat": -10.2, "r": 6055.38}, {"lat": -9.9, "r": 6055.43}, {"lat": -9.5, "r": 6055.44},
      {"lat": -9.1, "r": 6055.44}, {"lat": -8.8, "r": 6055.46}, {"lat": -8.5, "r": 6055.48}, {"lat": -8.3, "r": 6055.58},
      {"lat": -8.1, "r": 6055.66}, {"lat": -7.85, "r": 6055.74}, {"lat": -7.6, "r": 6055.88}, {"lat": -7.4, "r": 6055.95},
      {"lat": -7.15, "r": 6055.98}, {"lat": -6.95, "r": 6055.92}, {"lat": -6.75, "r": 6055.82}, {"lat": -6.6, "r": 6055.70},
      {"lat": -6.45, "r": 6055.60}, {"lat": -6.3, "r": 6055.52}, {"lat": -6.1, "r": 6055.47}, {"lat": -5.8, "r": 6055.42},
      {"lat": -5.5, "r": 6055.45}, {"lat": -5.2, "r": 6055.50}, {"lat": -5.0, "r": 6055.52}, {"lat": -4.8, "r": 6055.43},
      {"lat": -4.6, "r": 6055.35}, {"lat": -4.3, "r": 6055.35}, {"lat": -4.0, "r": 6055.28}, {"lat": -3.7, "r": 6055.20},
      {"lat": -3.4, "r": 6055.20}, {"lat": -3.1, "r": 6055.20}, {"lat": -2.8, "r": 6055.21}, {"lat": -2.5, "r": 6055.27},
      {"lat": -2.2, "r": 6055.32}, {"lat": -1.9, "r": 6055.32}, {"lat": -1.6, "r": 6055.45}, {"lat": -1.35, "r": 6055.66},
      {"lat": -1.15, "r": 6055.66}, {"lat": -9.1, "r": 6055.28}, {"lat": -5.8, "r": 6054.96}, {"lat": -5.6, "r": 6055.05},
      {"lat": -5.75, "r": 6054.84}, {"lat": -5.2, "r": 6055.28}, {"lat": -5.4, "r": 6055.52}, {"lat": -3.7, "r": 6055.00},
      {"lat": -0.96, "r": 6054.81}, {"lat": -0.78, "r": 6054.47}, {"lat": -0.75, "r": 6054.36}, {"lat": -0.55, "r": 6054.23},
      {"lat": -0.3, "r": 6054.18}, {"lat": -0.1, "r": 6054.15}, {"lat": 0.1, "r": 6054.10}, {"lat": 0.3, "r": 6054.05},
      {"lat": 0.55, "r": 6054.09}, {"lat": 0.8, "r": 6054.13}, {"lat": 1.0, "r": 6054.28}, {"lat": 1.15, "r": 6054.41},
      {"lat": 1.3, "r": 6054.80}, {"lat": 1.45, "r": 6054.90}, {"lat": 1.6, "r": 6054.98}, {"lat": 1.75, "r": 6055.00},
      {"lat": 1.95, "r": 6054.85}, {"lat": 2.15, "r": 6054.72}, {"lat": 2.3, "r": 6054.60}, {"lat": 2.45, "r": 6054.50},
      {"lat": 2.6, "r": 6054.27}, {"lat": 2.8, "r": 6054.13}, {"lat": 3.0, "r": 6054.00}, {"lat": 3.2, "r": 6053.95},
      {"lat": 3.45, "r": 6053.88}, {"lat": 3.6, "r": 6053.60}, {"lat": 3.7, "r": 6053.40}, {"lat": 3.8, "r": 6053.17},
      {"lat": 3.95, "r": 6052.99}, {"lat": 4.1, "r": 6052.82}, {"lat": 4.2, "r": 6052.70}, {"lat": 4.3, "r": 6052.45},
      {"lat": 4.45, "r": 6052.33}, {"lat": 4.65, "r": 6052.25}, {"lat": 4.85, "r": 6052.18}, {"lat": 5.0, "r": 6052.15},
      {"lat": 5.2, "r": 6052.49}, {"lat": 5.5, "r": 6052.52}, {"lat": 5.8, "r": 6052.55}, {"lat": 6.1, "r": 6052.50},
      {"lat": 6.45, "r": 6052.45}, {"lat": 6.75, "r": 6052.44}, {"lat": 6.95, "r": 6052.41}, {"lat": 7.15, "r": 6052.28},
      {"lat": 7.35, "r": 6052.18}, {"lat": 7.55, "r": 6052.08}, {"lat": 7.8, "r": 6052.01}, {"lat": 8.1, "r": 6051.98},
      {"lat": 8.45, "r": 6051.97}, {"lat": 8.75, "r": 6052.05}, {"lat": 9.05, "r": 6052.13}, {"lat": 9.35, "r": 6052.18},
      {"lat": 9.65, "r": 6052.21}, {"lat": 9.85, "r": 6052.10}, {"lat": 10.1, "r": 6052.10}, {"lat": 10.4, "r": 6052.15},
      {"lat": 10.7, "r": 6052.22}, {"lat": 11.0, "r": 6052.29}, {"lat": 11.4, "r": 6052.35}, {"lat": 11.5, "r": 6052.49},
      {"lat": 11.75, "r": 6052.51}, {"lat": 12.0, "r": 6052.32}, {"lat": 12.3, "r": 6052.26}, {"lat": 12.5, "r": 6052.43},
      {"lat": 12.7, "r": 6052.50}, {"lat": 12.9, "r": 6052.57}, {"lat": 13.1, "r": 6052.62}, {"lat": 13.3, "r": 6052.68},
      {"lat": 13.6, "r": 6052.65}, {"lat": 13.8, "r": 6052.49}, {"lat": 14.0, "r": 6052.37}, {"lat": 14.25, "r": 6052.23},
      {"lat": 14.55, "r": 6052.12}, {"lat": 14.9, "r": 6052.07}, {"lat": 15.3, "r": 6051.98}, {"lat": 15.8, "r": 6051.96},
      {"lat": 16.3, "r": 6051.96}, {"lat": 16.7, "r": 6051.89}, {"lat": 16.95, "r": 6051.82}, {"lat": 17.15, "r": 6051.98},
      {"lat": 17.55, "r": 6051.98}, {"lat": 17.9, "r": 6051.90}, {"lat": 18.1, "r": 6051.76}, {"lat": 18.4, "r": 6051.68},
      {"lat": 18.8, "r": 6051.65}, {"lat": 18.9, "r": 6051.73}, {"lat": 19.1, "r": 6051.87}, {"lat": 19.45, "r": 6051.93},
      {"lat": 19.7, "r": 6051.84}, {"lat": 19.95, "r": 6051.76}, {"lat": 20.25, "r": 6051.82}, {"lat": 20.5, "r": 6051.98},
      {"lat": 20.9, "r": 6052.07}, {"lat": 21.3, "r": 6052.15}, {"lat": 21.65, "r": 6052.23}, {"lat": 21.8, "r": 6052.37},
      {"lat": 22.15, "r": 6052.47}, {"lat": 22.55, "r": 6052.51}, {"lat": 22.8, "r": 6052.32}, {"lat": 22.85, "r": 6051.96},
      {"lat": 23.05, "r": 6051.84}, {"lat": 23.3, "r": 6051.65}, {"lat": 23.6, "r": 6051.62}, {"lat": 23.9, "r": 6051.59},
      {"lat": 24.2, "r": 6051.55}, {"lat": 24.5, "r": 6051.52}, {"lat": 24.8, "r": 6051.43}, {"lat": 25.05, "r": 6051.27},
      {"lat": 25.4, "r": 6051.19}, {"lat": 25.7, "r": 6051.16}, {"lat": 26.0, "r": 6051.15}, {"lat": 26.25, "r": 6051.24},
      {"lat": 26.7, "r": 6051.36}, {"lat": 26.8, "r": 6051.54}, {"lat": 26.9, "r": 6051.63}, {"lat": 27.0, "r": 6051.80},
      {"lat": 27.2, "r": 6052.05}, {"lat": 27.3, "r": 6052.17}, {"lat": 27.4, "r": 6052.29}, {"lat": 27.65, "r": 6052.37},
      {"lat": 28.05, "r": 6052.36}, {"lat": 28.06, "r": 6052.23}, {"lat": 28.1, "r": 6052.03}, {"lat": 28.25, "r": 6051.89},
      {"lat": 28.7, "r": 6051.89}, {"lat": 29.1, "r": 6051.84}, {"lat": 29.4, "r": 6051.76}, {"lat": 29.7, "r": 6051.68},
      {"lat": 29.95, "r": 6051.65}, {"lat": 30.1, "r": 6051.86}, {"lat": 30.15, "r": 6052.23}, {"lat": 30.55, "r": 6052.35},
      {"lat": 30.85, "r": 6052.26}, {"lat": 31.05, "r": 6052.23}, {"lat": 31.15, "r": 6052.04}, {"lat": 31.35, "r": 6051.96},
      {"lat": 31.6, "r": 6051.79}, {"lat": 31.75, "r": 6051.70}, {"lat": 31.85, "r": 6051.57}, {"lat": 32.1, "r": 6051.50},
      {"lat": 32.4, "r": 6051.82}, {"lat": 32.7, "r": 6051.96}, {"lat": 32.85, "r": 6052.11}, {"lat": 32.95, "r": 6052.21},
      {"lat": 33.05, "r": 6052.54}, {"lat": 33.45, "r": 6052.65}, {"lat": 33.75, "r": 6052.72}, {"lat": 33.85, "r": 6052.57},
      {"lat": 34.2, "r": 6052.49}, {"lat": 34.6, "r": 6052.54}, {"lat": 34.7, "r": 6052.75}, {"lat": 34.8, "r": 6052.92},
      {"lat": 35.1, "r": 6053.01}, {"lat": 35.5, "r": 6053.03}, {"lat": 35.8, "r": 6053.00}, {"lat": 36.1, "r": 6052.97},
      {"lat": 36.4, "r": 6052.97}, {"lat": 36.75, "r": 6052.96}, {"lat": 37.2, "r": 6052.92}, {"lat": 36.65, "r": 6053.08},
      {"lat": 37.1, "r": 6053.12}, {"lat": 37.4, "r": 6052.49}, {"lat": 37.8, "r": 6052.43}, {"lat": 38.05, "r": 6052.61},
      {"lat": 38.55, "r": 6052.37}, {"lat": 38.85, "r": 6052.42}, {"lat": 39.15, "r": 6052.46}, {"lat": 39.6, "r": 6052.40},
      {"lat": 40.0, "r": 6052.35}, {"lat": 40.3, "r": 6052.29}, {"lat": 40.4, "r": 6051.97}, {"lat": 40.7, "r": 6051.79},
      {"lat": 41.05, "r": 6051.61}, {"lat": 41.15, "r": 6051.41}, {"lat": 41.45, "r": 6051.32}, {"lat": 41.75, "r": 6051.38},
      {"lat": 42.05, "r": 6051.43}, {"lat": 42.3, "r": 6051.37}, {"lat": 42.6, "r": 6051.34}, {"lat": 43.2, "r": 6051.59},
      {"lat": 43.5, "r": 6051.72}, {"lat": 43.95, "r": 6051.58}, {"lat": 44.05, "r": 6051.32}, {"lat": 44.15, "r": 6051.05},
      {"lat": 44.5, "r": 6050.90}, {"lat": 44.8, "r": 6050.92}, {"lat": 45.1, "r": 6050.93}, {"lat": 45.4, "r": 6050.95},
      {"lat": 45.7, "r": 6050.97}, {"lat": 46.1, "r": 6050.91}, {"lat": 46.45, "r": 6050.59}, {"lat": 46.75, "r": 6050.74},
      {"lat": 46.8, "r": 6050.86}, {"lat": 46.95, "r": 6051.11}, {"lat": 47.15, "r": 6051.19}, {"lat": 47.25, "r": 6051.36},
      {"lat": 47.6, "r": 6051.51}, {"lat": 47.9, "r": 6051.76}, {"lat": 48.2, "r": 6051.61}, {"lat": 48.5, "r": 6051.62},
      {"lat": 48.8, "r": 6051.62}, {"lat": 49.1, "r": 6051.58}, {"lat": 49.35, "r": 6051.55}, {"lat": 49.65, "r": 6051.52},
      {"lat": 49.95, "r": 6051.48}, {"lat": 50.4, "r": 6051.37}, {"lat": 50.9, "r": 6051.48}, {"lat": 51.2, "r": 6051.65},
      {"lat": 51.6, "r": 6051.76}, {"lat": 51.95, "r": 6051.87}, {"lat": 52.25, "r": 6051.65}, {"lat": 52.55, "r": 6051.54},
      {"lat": 52.95, "r": 6051.48}, {"lat": 53.2, "r": 6051.34}, {"lat": 53.45, "r": 6051.30}, {"lat": 53.7, "r": 6051.26},
      {"lat": 53.95, "r": 6051.22}, {"lat": 54.2, "r": 6051.18}, {"lat": 54.45, "r": 6051.09}
    ]
  },
  "layer": [
    {
      "data": {"name": "raw"},
      "mark": {"type": "point", "filled": true, "color": "black", "size": 80, "opacity": 1, "strokeWidth": 0},
      "encoding": {
        "x": {
          "field": "lat", "type": "quantitative",
          "scale": {"domain": [-90, 90], "nice": false, "zero": false},
          "axis": {
            "orient": "bottom", "values": [-90, -60, -30, 0, 30, 60, 90],
            "tickSize": -113, "labelPadding": 137, "labelExpr": "'' + datum.value",
            "title": "Latitude, deg", "titleX": 1556, "titleY": 158,
            "titleBaseline": "alphabetic", "titleAlign": "center", "titleAngle": 0
          }
        },
        "y": {
          "field": "r", "type": "quantitative",
          "scale": {"domain": [6045, 6065], "nice": false, "zero": false},
          "axis": {
            "orient": "left", "values": [6045, 6050, 6055, 6060, 6065],
            "tickSize": -113, "labelPadding": 151, "labelExpr": "'' + datum.value",
            "title": "Radius, km", "titleX": -282, "titleY": 1197,
            "titleAngle": -90, "titleBaseline": "alphabetic", "titleAlign": "center"
          }
        }
      }
    },
    {
      "data": {"name": "fit"},
      "mark": {"type": "point", "filled": true, "color": "#ff0000", "size": 80, "opacity": 1, "strokeWidth": 0},
      "encoding": {
        "x": {
          "field": "lat", "type": "quantitative",
          "scale": {"domain": [-90, 90], "nice": false, "zero": false},
          "axis": {
            "orient": "bottom",
            "values": [-85, -80, -75, -70, -65, -55, -50, -45, -40, -35, -25, -20, -15, -10, -5, 5, 10, 15, 20, 25, 35, 40, 45, 50, 55, 65, 70, 75, 80, 85],
            "tickSize": -57, "labels": false, "title": null
          }
        },
        "y": {
          "field": "r", "type": "quantitative",
          "scale": {"domain": [6045, 6065], "nice": false, "zero": false},
          "axis": {
            "orient": "left",
            "values": [6046, 6047, 6048, 6049, 6051, 6052, 6053, 6054, 6056, 6057, 6058, 6059, 6061, 6062, 6063, 6064],
            "tickSize": -57, "labels": false, "title": null
          }
        }
      }
    },
    {
      "data": {"name": "fit"},
      "mark": {"type": "point", "filled": true, "size": 1, "opacity": 0},
      "encoding": {
        "x": {
          "field": "lat", "type": "quantitative",
          "scale": {"domain": [-90, 90], "nice": false, "zero": false},
          "axis": {"orient": "top", "values": [-60, -30, 0, 30, 60], "tickSize": -113, "labels": false, "title": null}
        },
        "y": {
          "field": "r", "type": "quantitative",
          "scale": {"domain": [6045, 6065], "nice": false, "zero": false},
          "axis": {"orient": "right", "values": [6050, 6055, 6060], "tickSize": -113, "labels": false, "title": null}
        }
      }
    },
    {
      "data": {"name": "fit"},
      "mark": {"type": "point", "filled": true, "size": 1, "opacity": 0},
      "encoding": {
        "x": {
          "field": "lat", "type": "quantitative",
          "scale": {"domain": [-90, 90], "nice": false, "zero": false},
          "axis": {
            "orient": "top",
            "values": [-85, -80, -75, -70, -65, -55, -50, -45, -40, -35, -25, -20, -15, -10, -5, 5, 10, 15, 20, 25, 35, 40, 45, 50, 55, 65, 70, 75, 80, 85],
            "tickSize": -57, "labels": false, "title": null
          }
        },
        "y": {
          "field": "r", "type": "quantitative",
          "scale": {"domain": [6045, 6065], "nice": false, "zero": false},
          "axis": {
            "orient": "right",
            "values": [6046, 6047, 6048, 6049, 6051, 6052, 6053, 6054, 6056, 6057, 6058, 6059, 6061, 6062, 6063, 6064],
            "tickSize": -57, "labels": false, "title": null
          }
        }
      }
    }
  ],
  "resolve": {"axis": {"x": "independent", "y": "independent"}},
  "config": {
    "view": {"stroke": "black", "strokeWidth": 4},
    "axis": {
      "grid": false,
      "domain": false,
      "tickColor": "black",
      "tickWidth": 4,
      "labelFont": "DejaVu Sans",
      "labelFontSize": 75,
      "labelColor": "black",
      "labelFlush": false,
      "labelOverlap": false,
      "labelLimit": 0,
      "titleFont": "DejaVu Sans",
      "titleFontSize": 75,
      "titleFontWeight": "normal",
      "titleColor": "black"
    }
  }
}
